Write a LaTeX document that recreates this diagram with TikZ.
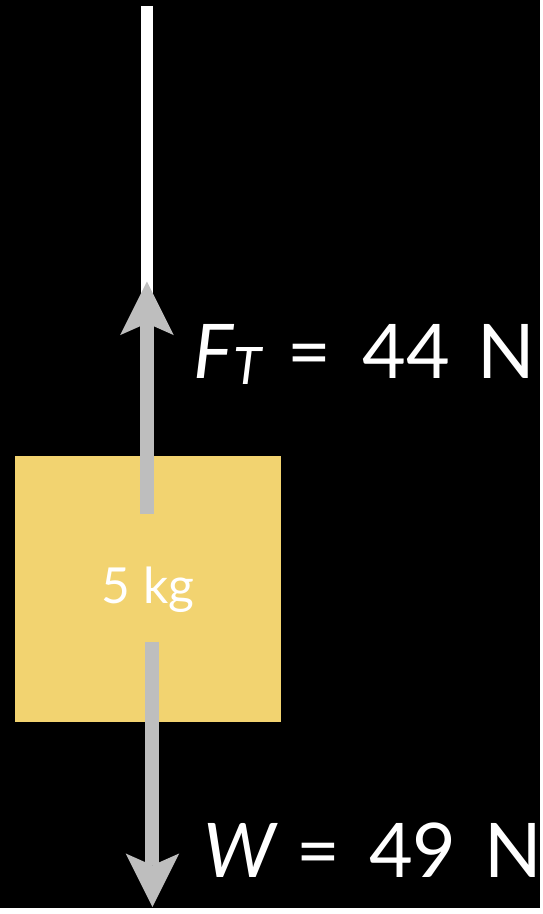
\documentclass[tikz,border=0pt]{standalone}
\usepackage{fontspec}
\setmainfont{Lato}
\usepackage{xcolor}
\usetikzlibrary{arrows.meta, positioning}
\definecolor{massyellow}{RGB}{242,211,112}
\definecolor{forcegray}{RGB}{190,190,190}

\begin{document}
\begin{tikzpicture}[
    x=1pt, y=-1pt,
    mbox/.style={
        fill=massyellow, minimum width=268pt, minimum height=268pt,
        inner sep=0pt, text=white, font=\fontsize{50}{50}\selectfont
    },
    farrow/.style={
        draw=forcegray, line width=14pt,
        -{Stealth[length=54pt, width=54pt, inset=12pt, line width=0pt]}
    },
    rope/.style={draw=white, line width=13pt},
    flbl/.style={text=white, inner sep=0pt, anchor=base west,
        font=\fontsize{76}{76}\selectfont}
]
\def\xU{148}   \def\xD{153.5}

\fill[black] (0,0) rectangle (544,914);

% rope and block
\coordinate (ropetop) at (\xU,6);
\coordinate (ropeend) at (\xU,300);
\draw[rope] (ropetop) -- (ropeend);

\node[mbox] (mass) at (149,593) {5 kg};

% forces
\coordinate (ttail) at (\xU,517);
\coordinate (thead) at (\xU,283);
\coordinate (wtail) at (\xD,646);
\coordinate (whead) at (\xD,913);
\draw[farrow] (ttail) -- (thead);
\draw[farrow] (wtail) -- (whead);

\node[flbl] (tlbl) at (195,381) {%
  {\itshape F\raisebox{-6pt}{\fontsize{52}{52}\selectfont T}}\hspace{26pt}=\hspace{31pt}44\hspace{28pt}N};
\node[flbl] (wlbl) at (205,883) {%
  {\itshape W}\hspace{21pt}=\hspace{29pt}49\hspace{28pt}N};

\end{tikzpicture}
\end{document}
